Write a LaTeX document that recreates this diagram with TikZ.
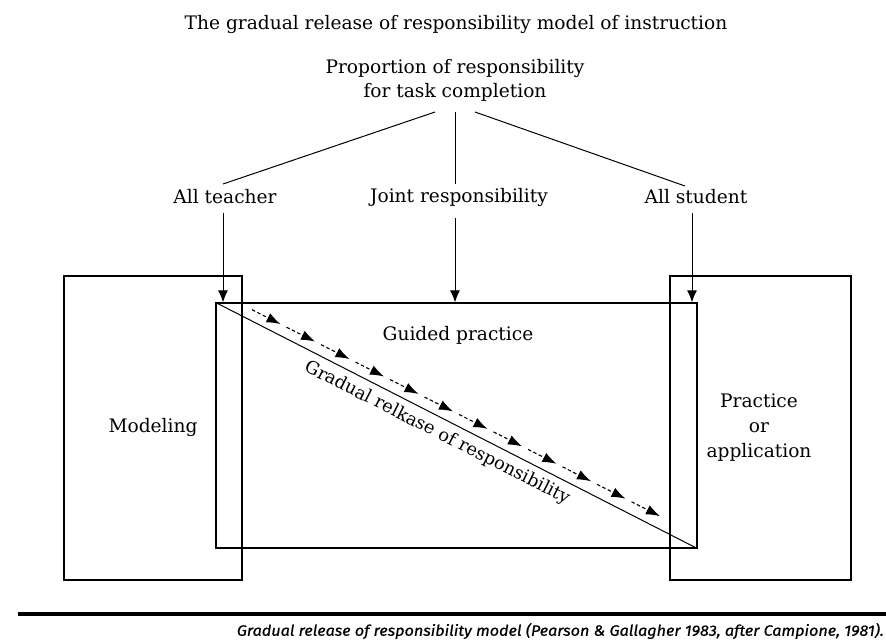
\documentclass[tikz,border=0pt]{standalone}
\usepackage{fontspec}
\setmainfont{DejaVu Serif}
\newfontfamily\capfont{Fira Sans}[FakeBold=0.6]
\usetikzlibrary{arrows.meta}
\begin{document}
\begin{tikzpicture}[x=1pt,y=-1pt,
  font=\fontsize{18.6}{22}\selectfont,
  box/.style={draw,line width=1.3pt,inner sep=0pt},
  conn/.style={line width=1pt},
  arr/.style={conn,-{Latex[length=12pt,width=10pt]}},
  darr/.style={line width=1.1pt,dash pattern=on 3.5pt off 2.5pt,-{Latex[length=14pt,width=10pt]}},
  lbl/.style={inner sep=0pt}]
\useasboundingbox (0,0) rectangle (886,641);
% title
\node[lbl] (title) at (456,24) {The gradual release of responsibility model of instruction};
\node[lbl,align=center,font=\fontsize{18.6}{24}\selectfont] (prop) at (455,80) {Proportion of responsibility\\for task completion};
% level labels
\node[lbl] (teacher) at (225,197) {All teacher};
\node[lbl] (joint) at (459,197) {Joint responsibility};
\node[lbl] (student) at (696,197) {All student};
% boxes
\node[box,minimum width=178pt,minimum height=304pt] (model) at (153,428) {};
\node[box,minimum width=181pt,minimum height=304pt] (practice) at (760.5,428) {};
\node[box,minimum width=481pt,minimum height=245pt] (guided) at (456.5,425.5) {};
\node[lbl] (modeltxt) at (153,427) {Modeling};
\node[lbl,align=center,font=\fontsize{18.6}{25}\selectfont] (practicetxt) at (759,428) {Practice\\or\\application};
\node[lbl] (guidedtxt) at (458,335) {Guided practice};
% connectors from proportion
\coordinate (pl) at (435,112);
\coordinate (pc) at (455,112);
\coordinate (pr) at (475,112);
\coordinate (tl) at (223,184);
\coordinate (jc) at (455,184);
\coordinate (sr) at (685,186);
\draw[conn] (pl) -- (tl);
\draw[conn] (pc) -- (jc);
\draw[conn] (pr) -- (sr);
% arrows to guided box
\coordinate (ta) at (223,213);
\coordinate (ja) at (455,218);
\coordinate (sa) at (692,213);
\draw[arr] (ta) -- (ta |- guided.north);
\draw[arr] (ja) -- (ja |- guided.north);
\draw[arr] (sa) -- (sa |- guided.north);
% diagonal
\draw[line width=1pt] (guided.north west) -- (guided.south east);
\foreach \i in {0,...,11}{
  \pgfmathsetmacro\xa{252+34.5*\i}
  \pgfmathsetmacro\ya{303+0.506*(\xa-216)-11.5}
  \draw[darr] (\xa,\ya) -- ++(28.5,14.4);
}
\node[lbl,rotate=-26.9,font=\fontsize{17.8}{20}\selectfont] (grad) at (437,433) {Gradual relkase of responsibility};
% rule and caption
\coordinate (rl) at (18,614);
\coordinate (rr) at (886,614);
\draw[line width=4.5pt] (rl) -- (rr);
\node[lbl,anchor=east] (caption) at (884,631) {\resizebox*{647pt}{16pt}{\capfont\itshape Gradual release of responsibility model (Pearson \& Gallagher 1983, after Campione, 1981).}};
\end{tikzpicture}
\end{document}
